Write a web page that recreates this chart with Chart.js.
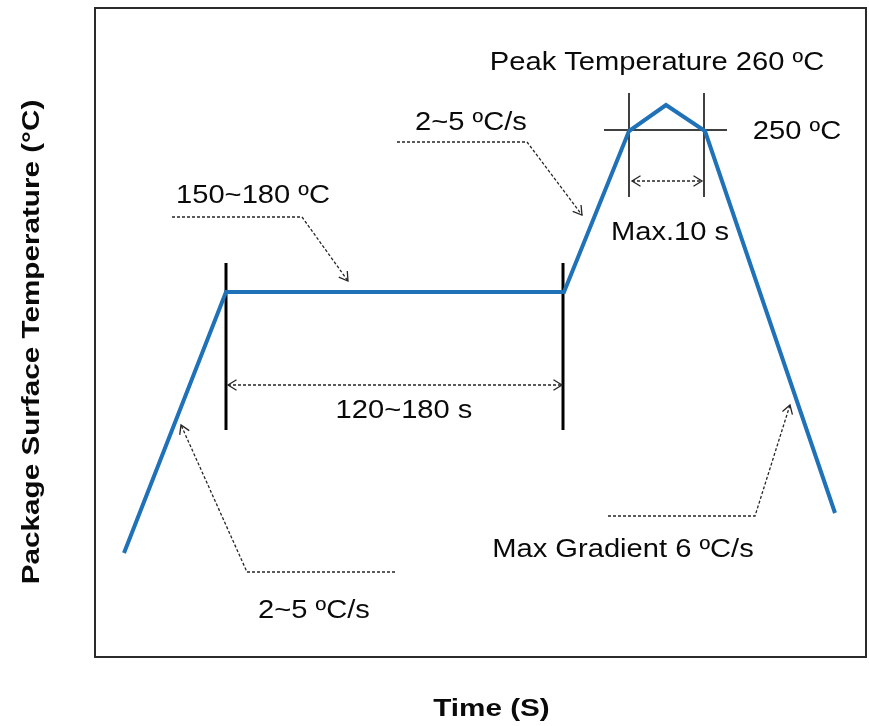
<!DOCTYPE html>
<html>
<head>
<meta charset="utf-8">
<script src="https://cdn.jsdelivr.net/npm/chart.js@4/dist/chart.umd.min.js"></script>
<style>
  html, body { margin: 0; padding: 0; background: #fff; }
  #wrap { width: 869px; height: 726px; }
</style>
</head>
<body>
<div id="wrap"><canvas id="reflow" width="869" height="726"></canvas></div>
<script>
// reflow profile, abstract units (time -> x, temperature -> y)
const timeValues = [29, 131, 469, 534, 571, 610, 740];
const tempValues = [104, 365, 365, 526, 552, 526, 144];

const xTitle = 'Time (S)';
const yTitle = 'Package Surface Temperature (°C)';

// solid marker lines [x1, y1, x2, y2, width]
const markerLines = [
  [131, 227, 131, 394, 3],
  [468, 227, 468, 394, 3],
  [534, 460, 534, 564, 1.5],
  [609, 460, 609, 564, 1.5],
  [509, 527, 632, 527, 1.5]
];

// dashed double arrows [x1, x2, y]
const spanArrows = [
  [133, 467, 272],
  [537, 607, 476]
];

// dashed leaders, last point gets the arrow head
const leaders = [
  [[302, 515], [432, 515], [487, 442]],
  [[77, 440], [207, 440], [253, 376]],
  [[300, 85], [152, 85], [86, 232]],
  [[513, 141], [660, 141], [695, 252]]
];

// callout text [text, centre x, baseline y]
const callouts = [
  ['Peak Temperature 260 ºC', 562, 587],
  ['250 ºC', 702, 518],
  ['2~5 ºC/s', 376, 527],
  ['Max.10 s', 575, 417],
  ['150~180 ºC', 158, 454],
  ['120~180 s', 309, 239],
  ['2~5 ºC/s', 219, 39],
  ['Max Gradient 6 ºC/s', 528, 100]
];

function toPx(chart, x, y) {
  return [chart.scales.x.getPixelForValue(x), chart.scales.y.getPixelForValue(y)];
}

function arrowHead(ctx, fx, fy, tx, ty, size) {
  const a = Math.atan2(ty - fy, tx - fx);
  ctx.setLineDash([]);
  ctx.beginPath();
  ctx.moveTo(tx - size * Math.cos(a - 0.55), ty - size * Math.sin(a - 0.55));
  ctx.lineTo(tx, ty);
  ctx.lineTo(tx - size * Math.cos(a + 0.55), ty - size * Math.sin(a + 0.55));
  ctx.stroke();
}

function stretchedText(ctx, text, x, y, font, sx, rot) {
  ctx.save();
  ctx.translate(x, y);
  if (rot) ctx.rotate(rot);
  ctx.scale(sx, 1);
  ctx.font = font;
  ctx.textAlign = 'center';
  ctx.textBaseline = 'alphabetic';
  ctx.fillStyle = '#0a0a0a';
  ctx.fillText(text, 0, 0);
  ctx.restore();
}

const profileDecor = {
  id: 'profileDecor',
  beforeDatasetsDraw(chart) {
    const ctx = chart.ctx;
    const area = chart.chartArea;
    ctx.save();
    // frame
    ctx.strokeStyle = '#2b2b2b';
    ctx.lineWidth = 2;
    ctx.strokeRect(area.left, area.top, area.right - area.left, area.bottom - area.top);
    // black marker lines
    ctx.strokeStyle = '#000';
    markerLines.forEach(m => {
      const a = toPx(chart, m[0], m[1]);
      const b = toPx(chart, m[2], m[3]);
      ctx.lineWidth = m[4];
      ctx.beginPath();
      ctx.moveTo(a[0], a[1]);
      ctx.lineTo(b[0], b[1]);
      ctx.stroke();
    });
    ctx.restore();
  },
  afterDatasetsDraw(chart) {
    const ctx = chart.ctx;
    ctx.save();
    ctx.strokeStyle = '#262626';
    ctx.lineWidth = 1.3;
    spanArrows.forEach(s => {
      const a = toPx(chart, s[0], s[2]);
      const b = toPx(chart, s[1], s[2]);
      ctx.setLineDash([3, 2]);
      ctx.beginPath();
      ctx.moveTo(a[0], a[1]);
      ctx.lineTo(b[0], b[1]);
      ctx.stroke();
      arrowHead(ctx, b[0], b[1], a[0], a[1], 10);
      arrowHead(ctx, a[0], a[1], b[0], b[1], 10);
    });
    leaders.forEach(pts => {
      const p = pts.map(q => toPx(chart, q[0], q[1]));
      ctx.setLineDash([3, 2]);
      ctx.beginPath();
      ctx.moveTo(p[0][0], p[0][1]);
      for (let i = 1; i < p.length; i++) ctx.lineTo(p[i][0], p[i][1]);
      ctx.stroke();
      const n = p.length;
      arrowHead(ctx, p[n - 2][0], p[n - 2][1], p[n - 1][0], p[n - 1][1], 10);
    });
    ctx.setLineDash([]);
    callouts.forEach(c => {
      const p = toPx(chart, c[1], c[2]);
      stretchedText(ctx, c[0], p[0], p[1], '26px "Liberation Sans", Arial, sans-serif', 1.12);
    });
    // axis titles
    const area = chart.chartArea;
    stretchedText(ctx, xTitle, (area.left + area.right) / 2 + 11, area.bottom + 59,
      'bold 23px "Liberation Sans", Arial, sans-serif', 1.29);
    stretchedText(ctx, yTitle, area.left - 56, 342,
      'bold 23px "Liberation Sans", Arial, sans-serif', 1.29, -Math.PI / 2);
    ctx.restore();
  }
};

new Chart(document.getElementById('reflow'), {
  type: 'line',
  data: {
    datasets: [{
      label: 'Profile',
      data: timeValues.map((t, i) => ({ x: t, y: tempValues[i] })),
      borderColor: '#1f72b8',
      borderWidth: 4,
      borderJoinStyle: 'miter',
      pointRadius: 0,
      tension: 0,
      fill: false
    }]
  },
  options: {
    responsive: false,
    animation: false,
    layout: { padding: { left: 95, top: 8, right: 3, bottom: 69 } },
    plugins: { legend: { display: false }, tooltip: { enabled: false } },
    scales: {
      x: { type: 'linear', min: 0, max: 771, display: false },
      y: { type: 'linear', min: 0, max: 649, display: false }
    }
  },
  plugins: [profileDecor]
});
</script>
</body>
</html>
